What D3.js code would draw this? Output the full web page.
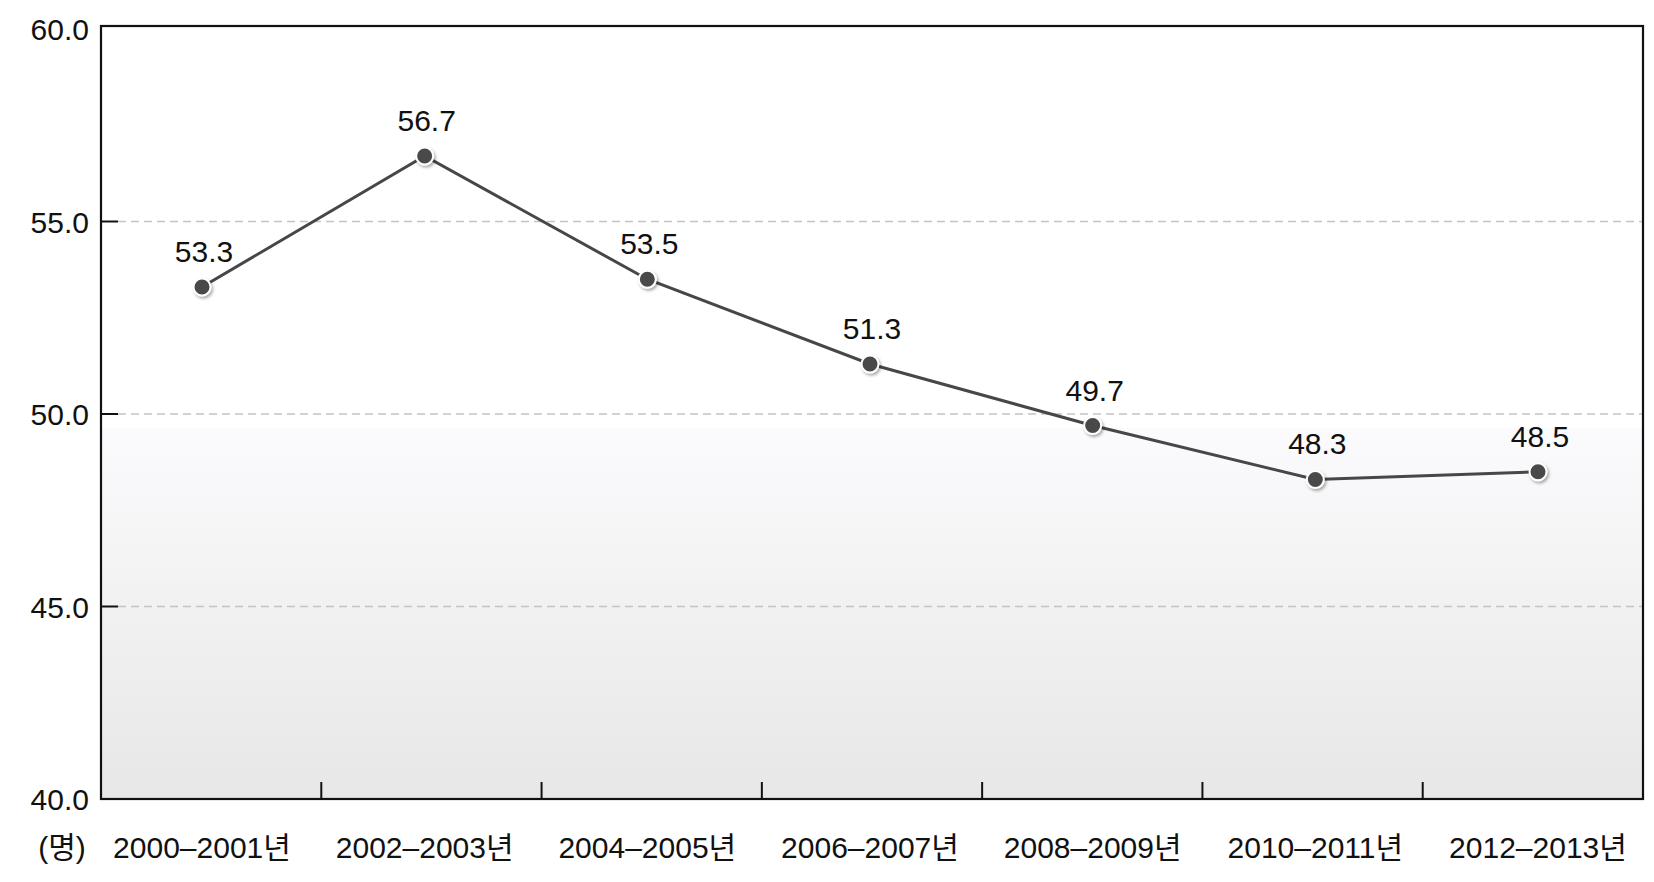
<!DOCTYPE html>
<html>
<head>
<meta charset="utf-8">
<script src="https://cdn.jsdelivr.net/npm/d3@7"></script>
<style>
  html, body { margin: 0; padding: 0; background: #fff; }
  svg { display: block; }
  text { font-family: "Liberation Sans", Arial, "Noto Sans CJK KR", sans-serif; fill: #111; }
</style>
</head>
<body>
<svg id="chart" width="1654" height="882"></svg>
<script>
const categories = ["2000–2001년", "2002–2003년", "2004–2005년", "2006–2007년", "2008–2009년", "2010–2011년", "2012–2013년"];
const values = [53.3, 56.7, 53.5, 51.3, 49.7, 48.3, 48.5];
const yTicks = [40, 45, 50, 55, 60];
const unitLabel = "(명)";

const svg = d3.select("#chart");
const L = 101, R = 1643, T = 26, B = 799;

const y = d3.scaleLinear().domain([40, 60]).range([B, 29]);
const xBand = d3.scaleBand().domain(categories).range([L, R]).padding(0);
const xPoint = d3.scalePoint().domain(categories).range([202, 1538]);

const defs = svg.append("defs");
const grad = defs.append("linearGradient").attr("id", "bg").attr("x1", 0).attr("y1", 0).attr("x2", 0).attr("y2", 1);
grad.append("stop").attr("offset", "0%").attr("stop-color", "#fbfbfd");
grad.append("stop").attr("offset", "100%").attr("stop-color", "#e7e7e7");
const flt = defs.append("filter").attr("id", "shadow").attr("x", "-50%").attr("y", "-50%").attr("width", "200%").attr("height", "200%");
flt.append("feDropShadow").attr("dx", 1.5).attr("dy", 2).attr("stdDeviation", 1.5).attr("flood-color", "#000").attr("flood-opacity", 0.35);

// background
svg.append("rect").attr("x", L).attr("y", T).attr("width", R - L).attr("height", B - T).attr("fill", "#fff");
svg.append("rect").attr("x", L).attr("y", y(50) + 14).attr("width", R - L).attr("height", B - y(50) - 14).attr("fill", "url(#bg)");

// gridlines
svg.append("g").selectAll("line").data(yTicks.filter(d => d > 40 && d < 60)).join("line")
  .attr("x1", L + 17).attr("x2", R).attr("y1", d => y(d)).attr("y2", d => y(d))
  .attr("stroke", "#c4c4c4").attr("stroke-width", 1.5).attr("stroke-dasharray", "8,5");

// y tick marks (inward)
svg.append("g").selectAll("line").data(yTicks.filter(d => d > 40 && d < 60)).join("line")
  .attr("x1", L).attr("x2", L + 17).attr("y1", d => y(d)).attr("y2", d => y(d))
  .attr("stroke", "#111").attr("stroke-width", 2);

// x tick marks (upward at band boundaries)
svg.append("g").selectAll("line").data(categories.slice(1)).join("line")
  .attr("x1", d => xBand(d)).attr("x2", d => xBand(d)).attr("y1", B).attr("y2", B - 17)
  .attr("stroke", "#111").attr("stroke-width", 2);

// frame
svg.append("rect").attr("x", L).attr("y", T).attr("width", R - L).attr("height", B - T)
  .attr("fill", "none").attr("stroke", "#111").attr("stroke-width", 2.2);

// y tick labels
svg.append("g").selectAll("text").data(yTicks).join("text")
  .attr("x", 89).attr("y", d => y(d) + 11).attr("text-anchor", "end")
  .attr("font-size", 30).text(d => d.toFixed(1));

// x labels
svg.append("g").selectAll("text").data(categories).join("text")
  .attr("x", d => xPoint(d)).attr("y", 858).attr("text-anchor", "middle")
  .attr("font-size", 30).text(d => d);
svg.append("text").attr("x", 62).attr("y", 858).attr("text-anchor", "middle")
  .attr("font-size", 30).text(unitLabel);

// line
const data = categories.map((c, i) => ({ c, v: values[i] }));
svg.append("path").datum(data)
  .attr("d", d3.line().x(d => xPoint(d.c)).y(d => y(d.v)))
  .attr("fill", "none").attr("stroke", "#474747").attr("stroke-width", 3);

// markers
svg.append("g").selectAll("circle").data(data).join("circle")
  .attr("cx", d => xPoint(d.c)).attr("cy", d => y(d.v)).attr("r", 8.5)
  .attr("fill", "#4a4a4a").attr("stroke", "#fff").attr("stroke-width", 2)
  .attr("filter", "url(#shadow)");

// value labels
svg.append("g").selectAll("text").data(data).join("text")
  .attr("x", d => xPoint(d.c) + 2).attr("y", d => y(d.v) - 25).attr("text-anchor", "middle")
  .attr("font-size", 30).text(d => d.v.toFixed(1));
</script>
</body>
</html>
